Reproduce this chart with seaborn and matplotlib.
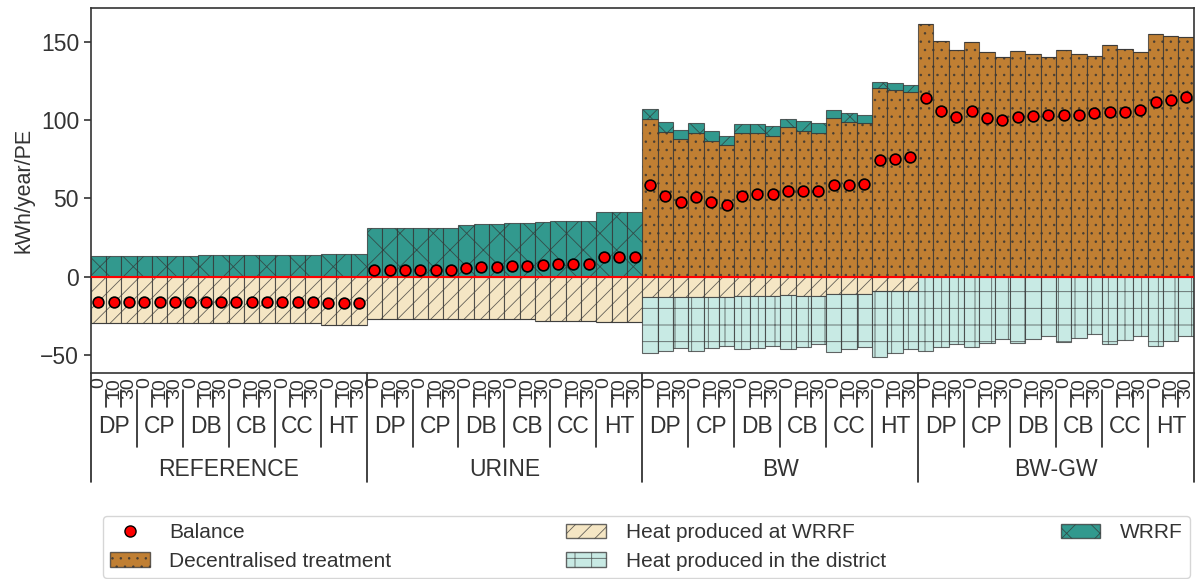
import numpy as np
import pandas as pd
import matplotlib
matplotlib.use("Agg")
import matplotlib.pyplot as plt
import matplotlib.transforms as mtransforms
from matplotlib.patches import Patch
from matplotlib.lines import Line2D
import seaborn as sns

# Categories
groups = ["REFERENCE", "URINE", "BW", "BW-GW"]
subgroups = ["DP", "CP", "DB", "CB", "CC", "HT"]
levels = ["0", "10", "30"]

# Values (kWh/year/PE), 18 bars per group
decentral_ref = [0] * 18
wrrf_ref = [13.4, 13.4, 13.4, 13.4, 13.4, 13.4, 13.4, 14.0, 14.0,
            14.0, 14.0, 14.0, 14.0, 14.0, 14.0, 14.5, 14.5, 14.5]
heat_wrrf_ref = [29.8, 29.8, 29.8, 29.8, 29.8, 29.8, 29.8, 29.8, 29.8,
                 29.8, 29.8, 29.8, 29.8, 29.8, 29.8, 30.8, 30.8, 30.8]
heat_district_ref = [0] * 18
balance_ref = [-16.4, -16.4, -16.4, -16.4, -16.4, -16.4, -16.4, -16.3, -16.3,
               -16.3, -16.3, -16.3, -16.3, -16.3, -16.3, -17.0, -17.0, -17.0]

decentral_urine = [0] * 18
wrrf_urine = [31.3, 31.3, 31.3, 31.3, 31.3, 31.3, 33.0, 33.8, 33.8,
              34.5, 34.5, 35.2, 35.6, 35.6, 35.6, 41.3, 41.3, 41.3]
heat_wrrf_urine = [27.2, 27.2, 27.2, 27.2, 27.2, 27.2, 27.2, 27.2, 27.2,
                   27.2, 27.2, 28.1, 28.1, 28.1, 28.1, 28.7, 28.7, 28.7]
heat_district_urine = [0] * 18
balance_urine = [4.1, 4.1, 4.1, 4.1, 4.1, 4.1, 5.4, 6.0, 6.2,
                 6.8, 6.8, 7.3, 7.8, 7.9, 8.0, 12.7, 12.8, 12.8]

decentral_bw = [100.5, 92.2, 87.7, 92.0, 86.8, 83.9, 91.6, 91.6, 90.0,
                95.4, 93.0, 92.0, 101.1, 99.0, 98.0, 120.7, 119.2, 118.1]
wrrf_bw = [6.6, 6.4, 6.0, 6.3, 6.0, 5.9, 5.9, 5.9, 6.2,
           5.5, 6.2, 6.0, 5.3, 5.7, 5.4, 4.0, 4.7, 4.5]
heat_wrrf_bw = [12.8, 12.8, 12.8, 12.8, 13.2, 13.2, 12.1, 12.1, 12.1,
                11.7, 12.1, 12.1, 11.2, 11.2, 11.2, 8.9, 8.9, 9.3]
heat_district_bw = [36.1, 34.5, 32.9, 34.5, 32.5, 30.9, 34.3, 33.2, 32.0,
                    34.7, 33.0, 30.9, 37.1, 35.2, 33.5, 42.2, 40.0, 37.1]
balance_bw = [58.3, 51.3, 47.9, 51.1, 47.4, 46.0, 51.3, 52.6, 52.8,
              54.7, 54.5, 54.9, 58.5, 58.5, 59.2, 74.5, 75.4, 76.6]

decentral_bwgw = [161.4, 150.7, 144.6, 150.0, 143.7, 140.1, 143.9, 142.2, 140.5,
                  144.8, 142.2, 140.9, 148.1, 145.4, 143.7, 155.2, 153.9, 152.9]
wrrf_bwgw = [0] * 18
heat_wrrf_bwgw = [0] * 18
heat_district_bwgw = [47.4, 45.1, 43.0, 44.7, 42.5, 40.0, 42.1, 40.0, 37.7,
                      41.9, 39.0, 36.4, 43.2, 40.4, 37.7, 44.1, 40.9, 37.9]
balance_bwgw = [114.1, 105.7, 102.1, 105.7, 101.4, 100.4, 102.3, 102.5, 103.4,
                103.2, 103.4, 104.9, 105.1, 105.1, 106.4, 111.6, 113.0, 114.7]

# Build one table
rows = []
for g, dec, wr, hw, hd, bal in [
        ("REFERENCE", decentral_ref, wrrf_ref, heat_wrrf_ref, heat_district_ref, balance_ref),
        ("URINE", decentral_urine, wrrf_urine, heat_wrrf_urine, heat_district_urine, balance_urine),
        ("BW", decentral_bw, wrrf_bw, heat_wrrf_bw, heat_district_bw, balance_bw),
        ("BW-GW", decentral_bwgw, wrrf_bwgw, heat_wrrf_bwgw, heat_district_bwgw, balance_bwgw)]:
    for i in range(18):
        rows.append({"group": g, "sub": subgroups[i // 3], "level": levels[i % 3],
                     "decentral": dec[i], "wrrf": wr[i], "heat_wrrf": hw[i],
                     "heat_district": hd[i], "balance": bal[i]})
df = pd.DataFrame(rows)
df["x"] = np.arange(len(df))

# Style
sns.set_theme(style="ticks")
plt.rcParams["font.family"] = ["Liberation Sans", "DejaVu Sans"]
plt.rcParams["hatch.linewidth"] = 0.6

c_dec = "#c07f33"
c_wrrf = "#32998e"
c_hw = "#f5e6c4"
c_hd = "#c8eae4"
edge = (0.2, 0.2, 0.2, 0.75)
txt = "#333333"

fig = plt.figure(figsize=(11.95, 5.79), dpi=100)
ax = fig.add_axes([0.076, 0.356, 0.923, 0.631])

x = df["x"].values
ax.bar(x, df["decentral"], width=1.0, color=c_dec, edgecolor=edge, linewidth=0.8, hatch="..")
ax.bar(x, df["wrrf"], width=1.0, bottom=df["decentral"], color=c_wrrf,
       edgecolor=edge, linewidth=0.8, hatch="x")
ax.bar(x, -df["heat_wrrf"], width=1.0, color=c_hw, edgecolor=edge, linewidth=0.8, hatch="//")
ax.bar(x, -df["heat_district"], width=1.0, bottom=-df["heat_wrrf"], color=c_hd,
       edgecolor=edge, linewidth=0.8, hatch="+")
ax.axhline(0, color="red", lw=1.5, zorder=3)
sns.scatterplot(data=df, x="x", y="balance", ax=ax, color="red", edgecolor="black",
                linewidth=1.2, s=60, zorder=4, legend=False)

ax.set_xlim(-0.5, len(df) - 0.5)
ax.set_ylim(-61.5, 172)
ax.set_yticks([-50, 0, 50, 100, 150])
ax.tick_params(axis="y", labelsize=16.5, length=5, width=1.2, color=txt, labelcolor=txt)
ax.set_xticks([])
ax.set_xlabel("")
ax.set_ylabel("kWh/year/PE", fontsize=15.5, color=txt)
for sp in ax.spines.values():
    sp.set_visible(True)
    sp.set_linewidth(1.2)
    sp.set_color(txt)

# Hierarchical x labels
trans = mtransforms.blended_transform_factory(ax.transData, ax.transAxes)

def vline(xpos, y0, y1):
    ln = Line2D([xpos, xpos], [y0, y1], transform=trans, color="#222222", lw=1.2)
    ln.set_clip_on(False)
    ax.add_line(ln)

for _, r in df.iterrows():
    ax.text(r["x"], -0.012, r["level"], rotation=90, ha="center", va="top",
            fontsize=14, color=txt, transform=trans)
for b in range(len(df) + 1):
    xb = b - 0.5
    if b % 18 == 0:
        vline(xb, 0, -0.30)
    elif b % 3 == 0:
        vline(xb, -0.046, -0.202)
    else:
        vline(xb, -0.046, -0.093)

for gi, g in enumerate(groups):
    ax.text(gi * 18 + 8.5, -0.265, g, ha="center", va="center", fontsize=16.5,
            color=txt, transform=trans)
    for si, s in enumerate(subgroups):
        ax.text(gi * 18 + si * 3 + 1, -0.148, s, ha="center", va="center",
                fontsize=16.5, color=txt, transform=trans)

# Legend
handles = [
    Line2D([], [], marker="o", ls="", markerfacecolor="red", markeredgecolor="black",
           markersize=8, label="Balance"),
    Patch(facecolor=c_dec, edgecolor=edge, hatch="..", label="Decentralised treatment"),
    Patch(facecolor=c_hw, edgecolor=edge, hatch="//", label="Heat produced at WRRF"),
    Patch(facecolor=c_hd, edgecolor=edge, hatch="+", label="Heat produced in the district"),
    Patch(facecolor=c_wrrf, edgecolor=edge, hatch="x", label="WRRF"),
]
leg = fig.legend(handles=handles, loc="lower left", ncol=3, mode="expand",
                 bbox_to_anchor=(0.086, 0.002, 0.91, 0.112), fontsize=15,
                 frameon=True, handlelength=1.9, borderaxespad=0.0,
                 labelspacing=0.45, handletextpad=0.95, borderpad=0.35)
for t in leg.get_texts():
    t.set_color(txt)

fig.savefig("out.png", dpi=100)
